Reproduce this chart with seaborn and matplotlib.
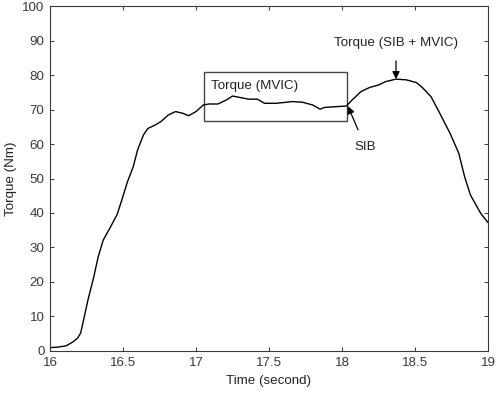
import pandas as pd
import seaborn as sns
import matplotlib.pyplot as plt
from matplotlib.patches import Rectangle

# --- data ---
time_s = [16.0, 16.05, 16.11, 16.16, 16.19, 16.21, 16.23, 16.26, 16.30, 16.33, 16.365,
          16.41, 16.46, 16.49, 16.53, 16.57, 16.60, 16.64, 16.67, 16.72, 16.76,
          16.81, 16.86, 16.91, 16.95, 17.0, 17.05, 17.09, 17.15, 17.21, 17.25,
          17.30, 17.36, 17.42, 17.47, 17.55, 17.66, 17.73, 17.80, 17.85, 17.88,
          17.95, 18.03, 18.07, 18.13, 18.19, 18.25, 18.30, 18.37, 18.44, 18.51,
          18.55, 18.61, 18.67, 18.74, 18.80, 18.84, 18.88, 18.95, 19.0]
torque_nm = [1.0, 1.1, 1.5, 2.7, 3.8, 5.2, 9.0, 14.8, 21.5, 27.3, 32.2,
             35.6, 39.6, 43.5, 49.0, 53.4, 58.3, 62.6, 64.5, 65.5, 66.5,
             68.4, 69.4, 68.9, 68.2, 69.4, 71.3, 71.6, 71.6, 72.8, 73.9,
             73.5, 73.0, 73.0, 71.8, 71.8, 72.3, 72.1, 71.3, 70.1, 70.6,
             70.8, 71.0, 72.8, 75.2, 76.4, 77.1, 78.1, 78.8, 78.6, 77.8,
             76.4, 73.7, 68.9, 63.1, 57.3, 50.5, 45.2, 39.9, 37.2]

mvic_box = [17.055, 18.036, 66.7, 81.0]   # x0, x1, y0, y1
peak_label = "Torque (SIB + MVIC)"
sib_label = "SIB"
mvic_label = "Torque (MVIC)"

sns.set_theme(style="ticks")
plt.rcParams['font.family'] = ['Liberation Sans', 'DejaVu Sans']
grey = "#3a3a3a"
fs = 9.6

df = pd.DataFrame({"time": time_s, "torque": torque_nm})

fig = plt.figure(figsize=(4.98, 3.95), dpi=100)
ax = fig.add_axes([0.1004, 0.1114, 0.8795, 0.8734])

sns.lineplot(data=df, x="time", y="torque", ax=ax, color="black", linewidth=1.0)

ax.set_xlim(16, 19)
ax.set_ylim(0, 100)
ax.set_xticks([16, 16.5, 17, 17.5, 18, 18.5, 19])
ax.set_xticklabels(["16", "16.5", "17", "17.5", "18", "18.5", "19"])
ax.set_yticks(range(0, 101, 10))
ax.tick_params(direction="in", length=3, width=0.7, colors=grey,
               labelsize=fs, top=True, right=True, pad=4)
for s in ax.spines.values():
    s.set_color(grey)
    s.set_linewidth(0.8)
    s.set_visible(True)

ax.set_xlabel("Time (second)", fontsize=fs, color="#222222", labelpad=5)
ax.set_ylabel("Torque (Nm)", fontsize=fs, color="#222222", labelpad=4)

# MVIC box
x0, x1, y0, y1 = mvic_box
ax.add_patch(Rectangle((x0, y0), x1 - x0, y1 - y0, fill=False,
                       edgecolor="#444444", linewidth=1.0))
ax.text(17.105, 76.9, mvic_label, fontsize=fs, va="center", ha="left", color="#222222")

# peak annotation
ax.annotate(peak_label, xy=(18.37, 78.8), xytext=(18.37, 89.2),
            ha="center", va="center", fontsize=fs, color="#222222",
            arrowprops=dict(arrowstyle="-|>", color="black", lw=0.9,
                            mutation_scale=11, shrinkA=6, shrinkB=0))

# SIB annotation
ax.annotate(sib_label, xy=(18.04, 71.0), xytext=(18.16, 59.2),
            ha="center", va="center", fontsize=fs, color="#222222",
            arrowprops=dict(arrowstyle="-|>", color="black", lw=0.9,
                            mutation_scale=11, shrinkA=6, shrinkB=0))

fig.savefig("out.png", dpi=100)
plt.close(fig)
